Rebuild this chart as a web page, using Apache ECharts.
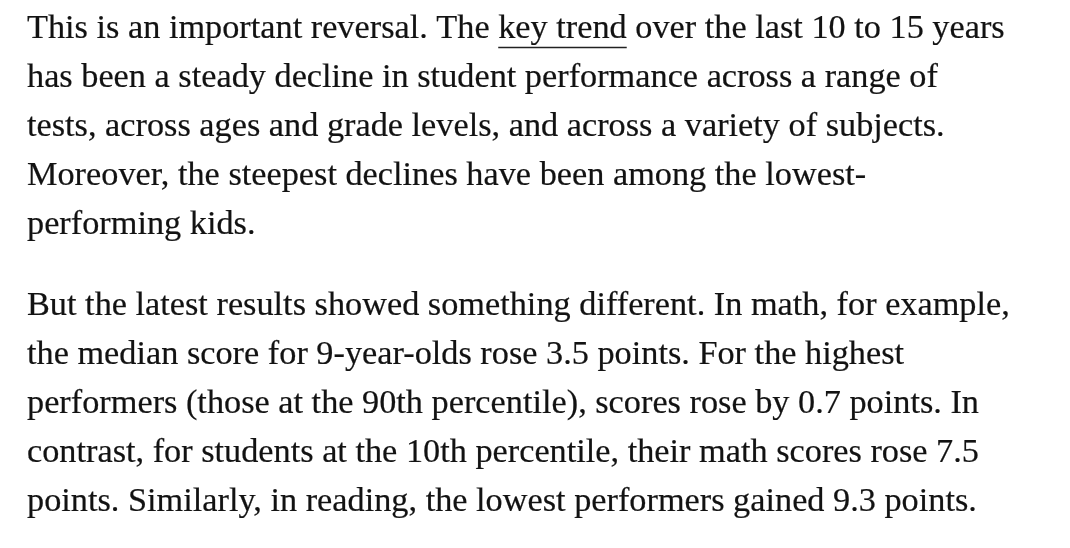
<!DOCTYPE html>
<html>
<head>
<meta charset="utf-8">
<script src="https://cdn.jsdelivr.net/npm/echarts/dist/echarts.min.js"></script>
<style>
  html, body { margin: 0; padding: 0; background: #ffffff; }
  #chart { width: 1070px; height: 548px; }
</style>
</head>
<body>
<div id="chart"></div>
<script>
// ---- content ----
const paragraph1 = [
  'This is an important reversal. The key trend over the last 10 to 15 years',
  'has been a steady decline in student performance across a range of',
  'tests, across ages and grade levels, and across a variety of subjects.',
  'Moreover, the steepest declines have been among the lowest-',
  'performing kids.'
];
const paragraph2 = [
  'But the latest results showed something different. In math, for example,',
  'the median score for 9-year-olds rose 3.5 points. For the highest',
  'performers (those at the 90th percentile), scores rose by 0.7 points. In',
  'contrast, for students at the 10th percentile, their math scores rose 7.5',
  'points. Similarly, in reading, the lowest performers gained 9.3 points.'
];
const linkPhrase = 'key trend';
const linkLine = 0; // line index in paragraph1

// ---- layout / style ----
const fontFamily = '"Liberation Serif", "DejaVu Serif", serif';
const textColor = '#121212';
const leftX = 27;
const firstBaseline = 39.5;
const lineStep = 49;
const paraGap = 81;
const fitWidth = 978; // width of first line

const cvs = document.createElement('canvas');
const ctx = cvs.getContext('2d');
function measure(str, fs) {
  ctx.font = fs + 'px ' + fontFamily;
  return ctx.measureText(str).width;
}
const fontSize = 100 * fitWidth / measure(paragraph1[0], 100);
const midOffset = fontSize * 0.30;

const elements = [];
function addParagraph(lines, baseStart) {
  lines.forEach(function (ln, i) {
    elements.push({
      type: 'text',
      x: leftX,
      y: baseStart + i * lineStep - midOffset,
      style: {
        text: ln,
        fill: textColor,
        stroke: textColor,
        lineWidth: 0.2,
        font: fontSize.toFixed(2) + 'px ' + fontFamily,
        align: 'left',
        verticalAlign: 'middle'
      }
    });
  });
}
addParagraph(paragraph1, firstBaseline);
const p2Start = firstBaseline + (paragraph1.length - 1) * lineStep + paraGap;
addParagraph(paragraph2, p2Start);

// underline for link phrase
const lineText = paragraph1[linkLine];
const idx = lineText.indexOf(linkPhrase);
const ux0 = leftX + measure(lineText.slice(0, idx), fontSize);
const ux1 = ux0 + measure(linkPhrase, fontSize);
const uy = firstBaseline + linkLine * lineStep + 8;
elements.push({
  type: 'line',
  shape: { x1: ux0, y1: uy, x2: ux1, y2: uy },
  style: { stroke: '#222222', lineWidth: 1.5 }
});

const chart = echarts.init(document.getElementById('chart'), null, { renderer: 'canvas' });
chart.setOption({
  backgroundColor: '#ffffff',
  animation: false,
  graphic: { elements: elements }
});
</script>
</body>
</html>
